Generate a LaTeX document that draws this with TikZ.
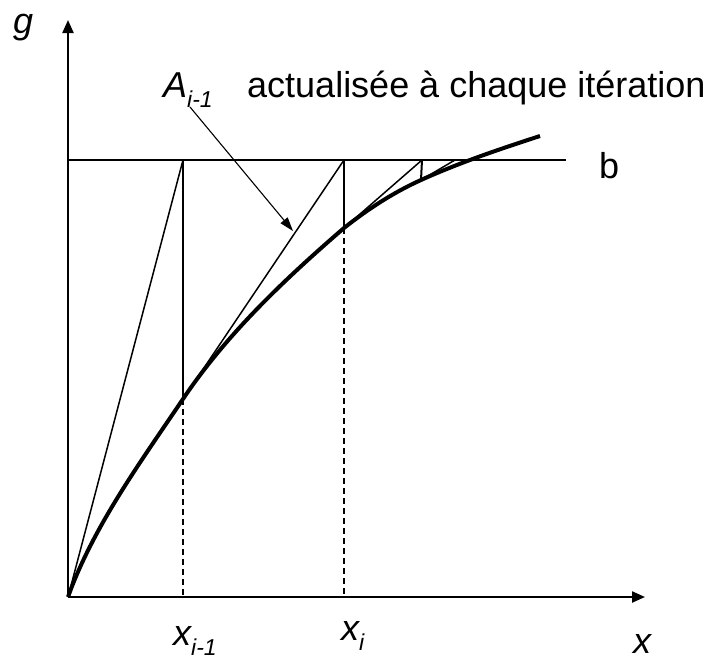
\documentclass[tikz,border=0pt]{standalone}
\usepackage{fontspec}
\setmainfont{Liberation Sans}
\usetikzlibrary{arrows.meta}
\tikzset{
  axis/.style={line width=2.3pt,-{Triangle[length=13pt,width=11pt]}},
  thin/.style={line width=1.5pt},
  vert/.style={line width=2pt},
  hline/.style={line width=1.1pt},
  guide/.style={line width=1.4pt,dash pattern=on 6pt off 4pt},
  curve/.style={line width=4pt},
  pointer/.style={line width=1.1pt,-{Triangle[length=14pt,width=9pt]}},
  lab/.style={inner sep=0pt,font=\fontsize{36}{40}\selectfont}
}
\newcommand{\subtxt}[1]{\raisebox{-10pt}{\fontsize{23}{25}\selectfont\itshape #1}}
\begin{document}
\begin{tikzpicture}[x=1pt,y=-1pt]
\useasboundingbox (0,0) rectangle (712,659);
% points
\coordinate (O) at (68,597);
\coordinate (Yt) at (68,20);
\coordinate (Xt) at (645,597);
\coordinate (bL) at (68,160);
\coordinate (bR) at (566,160);
\coordinate (P1) at (183,160);
\coordinate (C1) at (183,399);
\coordinate (F1) at (183,597);
\coordinate (P2) at (344,160);
\coordinate (C2) at (344,228);
\coordinate (F2) at (344,597);
\coordinate (P3) at (422,160);
\coordinate (C3) at (421,180);
\coordinate (P4) at (455,160);
\coordinate (E) at (540,136);
\coordinate (Aend) at (190,107);
\coordinate (Atip) at (293,231);
% horizontal b line
\draw[hline] (bL) -- (bR);
% dashed guides
\draw[guide] (C1) -- (F1);
\draw[guide] (C2) -- (F2);
% verticals and secants
\draw[thin] (O) -- (P1);
\draw[vert] (P1) -- (C1);
\draw[thin] (C1) -- (P2);
\draw[vert] (P2) -- (C2);
\draw[thin] (C2) -- (P3);
\draw[vert] (P3) -- (C3);
\draw[thin] (C3) -- (P4);
% curve
\draw[curve] (O) .. controls (93,527) and (140.5,462) .. (C1)
  .. controls (226.6,334) and (285,279) .. (C2)
  .. controls (368,209) and (393.7,192.3) .. (C3)
  .. controls (459,162.8) and (500,149) .. (E);
% axes
\draw[axis] (O) -- (Yt);
\draw[axis] (O) -- (Xt);
% pointer
\draw[pointer] (Aend) -- (Atip);
% labels
\node[lab,anchor=base west] (g) at (13,33) {\itshape g};
\node[lab,anchor=base west] (A) at (163,97) {\itshape A\subtxt{i-1}};
\node[lab,anchor=base west] (txt) at (247,97) {actualisée à chaque itération};
\node[lab,anchor=base west] (b) at (599,178) {b};
\node[lab,anchor=base west] (x1) at (173,645) {\itshape x\subtxt{i-1}};
\node[lab,anchor=base west] (x2) at (341,640) {\itshape x\subtxt{i}};
\node[lab,anchor=base west] (x) at (633,653) {\itshape x};
\end{tikzpicture}
\end{document}
